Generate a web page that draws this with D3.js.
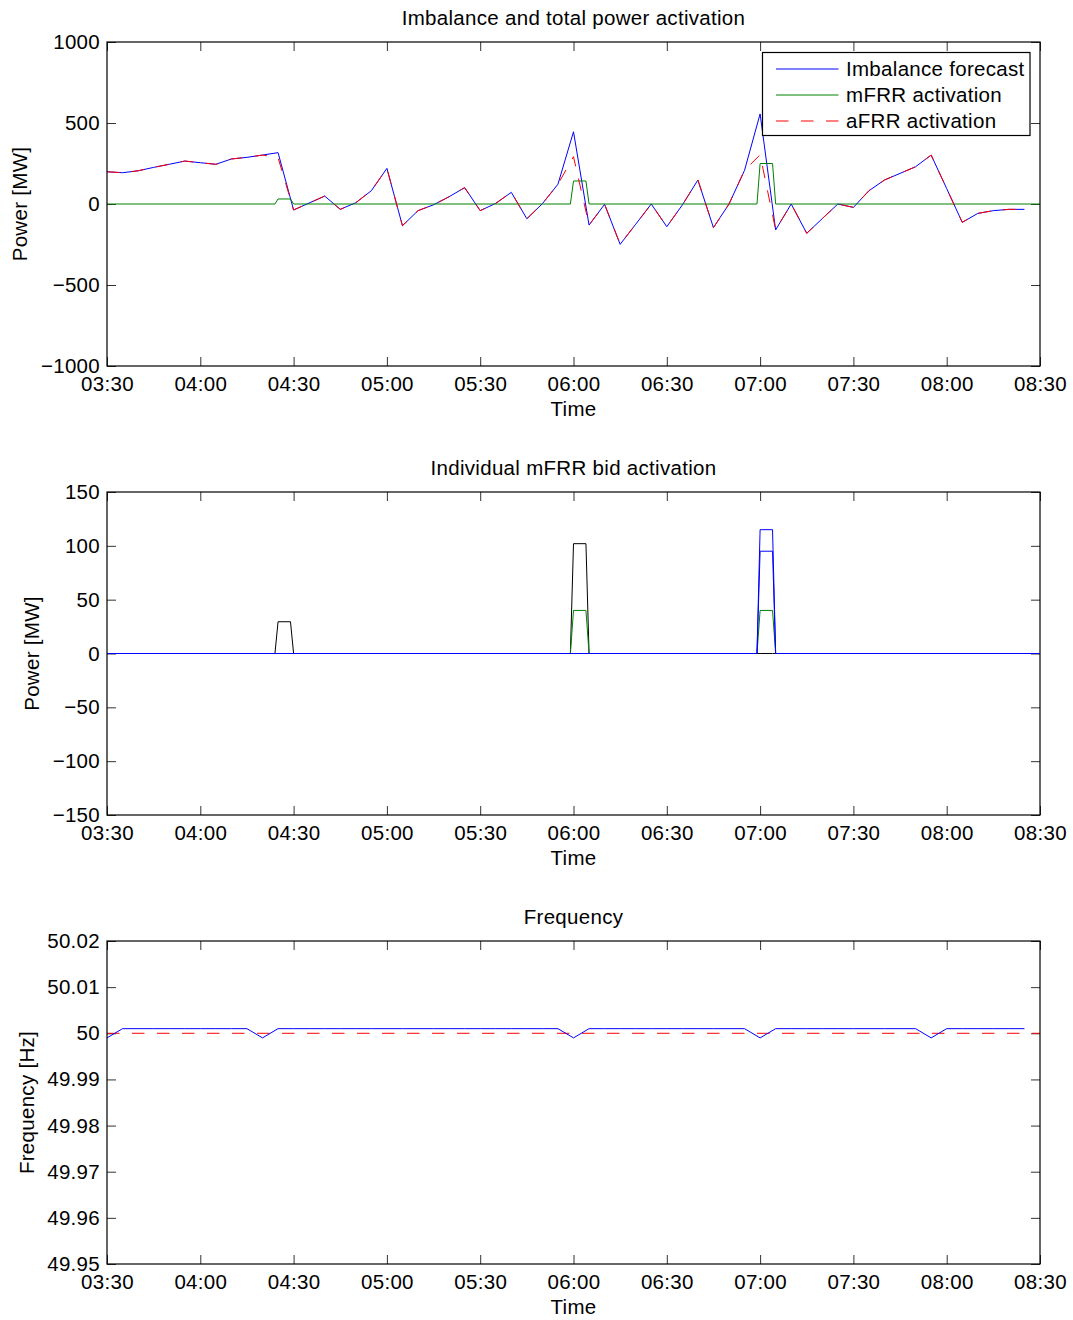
<!DOCTYPE html>
<html>
<head>
<meta charset="utf-8">
<script src="https://cdn.jsdelivr.net/npm/d3@7"></script>
<style>
  html, body { margin: 0; padding: 0; background: #fff; }
  svg { display: block; font-family: "Liberation Sans", Arial, sans-serif; }
  text { letter-spacing: 0.3px; }
</style>
</head>
<body>
<svg id="chart" width="1073" height="1320"></svg>
<script>
// ---------------- DATA ----------------
const xStart = "03:30", xEnd = "08:30";
const xTickLabels = ["03:30","04:00","04:30","05:00","05:30","06:00","06:30","07:00","07:30","08:00","08:30"];

// Panel 1: 5-minute samples starting at 03:30
const imbalanceForecast = [199,193,205,226,245,265,255,245,278,288,302,317,-37,6,49,-33,8,82,220,-134,
  -41,-5,45,101,-41,4,72,-91,2,122,446,-130,-2,-249,-125,0,-140,-6,148,-146,
  0,208,556,-160,0,-181,-90,0,-21,82,148,189,230,302,95,-113,-58,-41,-33,-33];
const afrrActivation = [199,193,205,226,245,265,255,245,278,288,302,286,-37,6,49,-33,8,82,220,-134,
  -41,-5,45,101,-41,4,72,-91,2,122,292,-130,-2,-249,-125,0,-140,-6,148,-146,
  0,208,304,-160,0,-181,-90,0,-21,82,148,189,230,302,95,-113,-58,-41,-33,-33];
// mFRR totals and individual bids (step times)
const stepTimes = ["03:30","04:24","04:25","04:29","04:30","05:59","06:00","06:04","06:05","06:59","07:00","07:04","07:05","08:30"];
const mfrrActivation = [0,0,31,31,0,0,142,142,0,0,250,250,0,0];
const bidBlack  = [0,0,29.5,29.5,0,0,102,102,0,0,0,0,0,0];
const bidGreen  = [0,0,0,0,0,0,40,40,0,0,40,40,0,0];
const bidBlueA  = [0,0,0,0,0,0,0,0,0,0,115,115,0,0];
const bidBlueB  = [0,0,0,0,0,0,0,0,0,0,95,95,0,0];

// Panel 3: frequency, 5-minute samples starting at 03:30
const frequency = [49.999,50.001,50.001,50.001,50.001,50.001,50.001,50.001,50.001,50.001,
  49.999,50.001,50.001,50.001,50.001,50.001,50.001,50.001,50.001,50.001,
  50.001,50.001,50.001,50.001,50.001,50.001,50.001,50.001,50.001,50.001,
  49.999,50.001,50.001,50.001,50.001,50.001,50.001,50.001,50.001,50.001,
  50.001,50.001,49.999,50.001,50.001,50.001,50.001,50.001,50.001,50.001,
  50.001,50.001,50.001,49.999,50.001,50.001,50.001,50.001,50.001,50.001];
const nominalTimes = ["03:30","08:30"];
const nominalFreq = [50, 50];

const yTicks1 = [-1000,-500,0,500,1000];
const yTicks2 = [-150,-100,-50,0,50,100,150];
const yTicks3 = [49.95,49.96,49.97,49.98,49.99,50,50.01,50.02];

const titles = ["Imbalance and total power activation","Individual mFRR bid activation","Frequency"];
const yLabels = ["Power [MW]","Power [MW]","Frequency [Hz]"];
const xLabel = "Time";
const legendLabels = ["Imbalance forecast","mFRR activation","aFRR activation"];

// ---------------- DRAW ----------------
const parse = d3.timeParse("%H:%M");
const fmt = d3.timeFormat("%H:%M");
const svg = d3.select("#chart");
const FS = 20.5;
const left = 107, right = 1040;
const x = d3.scaleTime().domain([parse(xStart), parse(xEnd)]).range([left, right]);
const fiveMin = (i) => d3.timeMinute.offset(parse(xStart), 5 * i);

const panels = [
  {top: 42,  bottom: 366,  domain: [-1000, 1000], ticks: yTicks1, ylx: 27,
   tf: d => d < 0 ? "\u2212" + Math.abs(d) : String(d)},
  {top: 492, bottom: 815,  domain: [-150, 150], ticks: yTicks2, ylx: 39,
   tf: d => d < 0 ? "\u2212" + Math.abs(d) : String(d)},
  {top: 941, bottom: 1264, domain: [49.95, 50.02], ticks: yTicks3, ylx: 33.5,
   tf: d => String(+d.toFixed(2))}
];

panels.forEach((p, i) => {
  p.y = d3.scaleLinear().domain(p.domain).range([p.bottom, p.top]);
  const g = svg.append("g");
  g.append("rect").attr("x", left).attr("y", p.top).attr("width", right - left)
    .attr("height", p.bottom - p.top).attr("fill", "#fff");

  const styleAxis = (sel, showText) => {
    sel.select(".domain").remove();
    sel.selectAll(".tick line").attr("stroke", "#333").attr("stroke-width", 1);
    sel.selectAll(".tick text").attr("font-size", FS).attr("fill", "#000")
      .attr("font-family", "Liberation Sans, Arial, sans-serif");
    if (!showText) sel.selectAll(".tick text").remove();
  };
  g.append("g").attr("transform", `translate(0,${p.bottom})`)
    .call(d3.axisBottom(x).tickValues(xTickLabels.map(parse)).tickFormat(fmt)
      .tickSizeInner(-9).tickSizeOuter(0).tickPadding(10.5))
    .call(s => styleAxis(s, true));
  g.append("g").attr("transform", `translate(0,${p.top})`)
    .call(d3.axisTop(x).tickValues(xTickLabels.map(parse)).tickFormat("")
      .tickSizeInner(-9).tickSizeOuter(0))
    .call(s => styleAxis(s, false));
  g.append("g").attr("transform", `translate(${left},0)`)
    .call(d3.axisLeft(p.y).tickValues(p.ticks).tickFormat(p.tf)
      .tickSizeInner(-9).tickSizeOuter(0).tickPadding(7))
    .call(s => styleAxis(s, true));
  g.append("g").attr("transform", `translate(${right},0)`)
    .call(d3.axisRight(p.y).tickValues(p.ticks).tickFormat("")
      .tickSizeInner(-9).tickSizeOuter(0))
    .call(s => styleAxis(s, false));

  g.append("text").attr("x", (left + right) / 2).attr("y", p.top - 17)
    .attr("text-anchor", "middle").attr("font-size", FS).text(titles[i]);
  g.append("text").attr("x", (left + right) / 2).attr("y", p.bottom + 49.5)
    .attr("text-anchor", "middle").attr("font-size", FS).text(xLabel);
  g.append("text").attr("transform", `translate(${p.ylx},${(p.top + p.bottom) / 2}) rotate(-90)`)
    .attr("text-anchor", "middle").attr("font-size", FS).text(yLabels[i]);
  p.g = g;
});

function drawLine(p, times, values, color, dash) {
  const line = d3.line().x((d, i) => x(times[i])).y(d => p.y(d));
  const path = p.g.append("path").datum(values).attr("d", line)
    .attr("fill", "none").attr("stroke", color).attr("stroke-width", 1)
    .attr("stroke-linejoin", "miter");
  if (dash) path.attr("stroke-dasharray", dash);
  return path;
}

const BLUE = "#0000ff", GREEN = "#008000", RED = "#ff0000", BLACK = "#000";
const DASH = "12.5,12.5";
const t5 = imbalanceForecast.map((d, i) => fiveMin(i));
const st = stepTimes.map(parse);

// Panel 1
drawLine(panels[0], t5, imbalanceForecast, BLUE);
drawLine(panels[0], st, mfrrActivation, GREEN);
drawLine(panels[0], afrrActivation.map((d, i) => fiveMin(i)), afrrActivation, RED, DASH);

// Legend
const lg = panels[0].g.append("g");
lg.append("rect").attr("x", 762.5).attr("y", 52.5).attr("width", 267.5).attr("height", 83)
  .attr("fill", "#fff").attr("stroke", "#000").attr("stroke-width", 1.2);
const legendColors = [BLUE, GREEN, RED];
legendLabels.forEach((lab, i) => {
  const yy = 69 + i * 26;
  const l = lg.append("line").attr("x1", 776).attr("x2", 838.5).attr("y1", yy).attr("y2", yy)
    .attr("stroke", legendColors[i]).attr("stroke-width", 1);
  if (i === 2) l.attr("stroke-dasharray", DASH);
  lg.append("text").attr("x", 846).attr("y", yy).attr("dy", "0.35em")
    .attr("font-size", FS).text(lab);
});

// Panel 2
drawLine(panels[1], st, bidBlack, BLACK);
drawLine(panels[1], st, bidGreen, GREEN);
drawLine(panels[1], st, bidBlueA, BLUE);
drawLine(panels[1], st, bidBlueB, BLUE);

// Panel 3
drawLine(panels[2], nominalTimes.map(parse), nominalFreq, RED, DASH);
drawLine(panels[2], frequency.map((d, i) => fiveMin(i)), frequency, BLUE);

panels.forEach(p => {
  p.g.append("rect").attr("x", left).attr("y", p.top).attr("width", right - left)
    .attr("height", p.bottom - p.top).attr("fill", "none").attr("stroke", "#000").attr("stroke-width", 1.2);
});
</script>
</body>
</html>
